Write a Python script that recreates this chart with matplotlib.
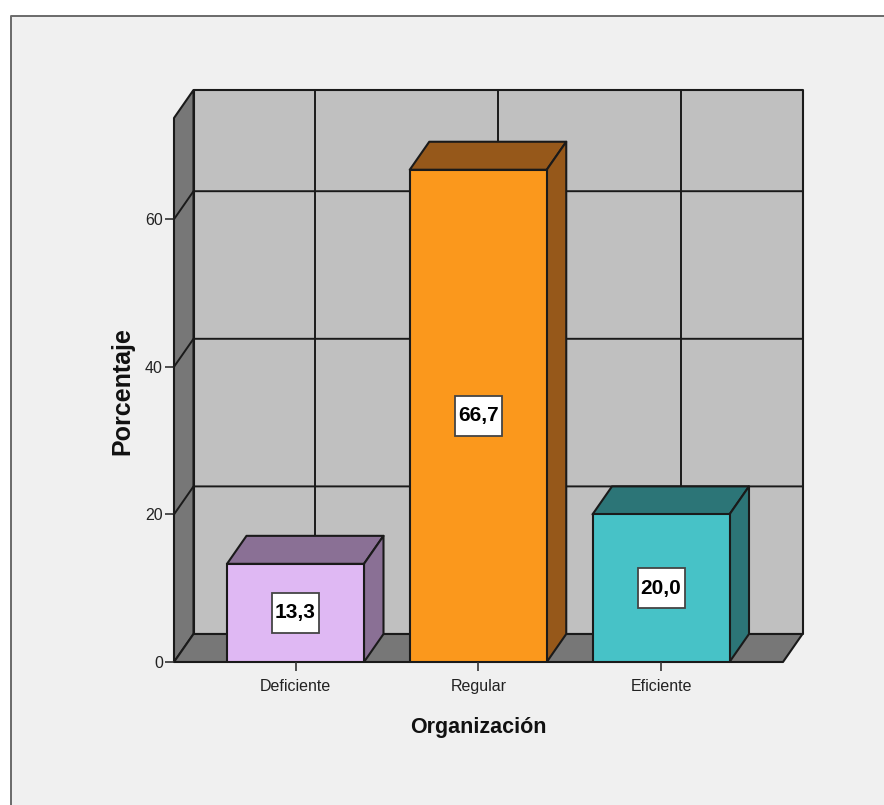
#!/usr/bin/env python3
# Barras en pseudo-3D: porcentaje por nivel de organización
import matplotlib
matplotlib.use("Agg")
import matplotlib.pyplot as plt
from matplotlib.patches import Polygon, Rectangle

CATEGORIES = ["Deficiente", "Regular", "Eficiente"]
VALUES = [13.3, 66.7, 20.0]
VALUE_LABELS = ["13,3", "66,7", "20,0"]
Y_TICKS = [0, 20, 40, 60]

FACE_COLORS = ["#dfb8f3", "#fb981c", "#47c2c7"]
SIDE_COLORS = ["#8a7095", "#96581a", "#2c7577"]
WALL = "#c0c0c0"
SHADE = "#777777"
BG = "#f0f0f0"
INK = "#1a1a1a"
FONT = ["Liberation Sans", "DejaVu Sans"]

W, H = 884, 805
# plano frontal del gráfico, en píxeles
LEFT, RIGHT, TOP, BOTTOM = 174, 783, 118, 662
PX_PER_CAT = 182.75
PX_PER_PCT = 7.38
DX = 19.5 / PX_PER_CAT  # profundidad en unidades de categoría
DY = 28 / PX_PER_PCT    # profundidad en unidades de porcentaje
BAR_W = 137 / PX_PER_CAT
BOX_W = 47 / PX_PER_CAT  # recuadro de la etiqueta de valor
BOX_H = 40 / PX_PER_PCT

fig = plt.figure(figsize=(W / 100, H / 100), dpi=100, facecolor="white")
plt.rcParams["font.family"] = FONT

# panel gris con el borde superior e izquierdo
fig.add_artist(Rectangle((11 / W, 0), 1, 1 - 16 / H, transform=fig.transFigure,
                         facecolor=BG, edgecolor="none", zorder=-2))
fig.add_artist(plt.Line2D([11 / W, 11 / W, 1], [0, 1 - 16.5 / H, 1 - 16.5 / H],
                          color="#6a6a6a", lw=1.4, zorder=-1))

ax = fig.add_axes([LEFT / W, 1 - BOTTOM / H, (RIGHT - LEFT) / W, (BOTTOM - TOP) / H])
ax.patch.set_visible(False)
x0 = -(295.5 - LEFT) / PX_PER_CAT
x1 = x0 + (RIGHT - LEFT) / PX_PER_CAT
y1 = (BOTTOM - TOP) / PX_PER_PCT
ax.set_xlim(x0, x1)
ax.set_ylim(0, y1)
for s in ax.spines.values():
    s.set_visible(False)


def poly(pts, fc, z):
    ax.add_patch(Polygon(pts, closed=True, facecolor=fc, edgecolor=INK, lw=1.5,
                         joinstyle="round", clip_on=False, zorder=z))


def line(xs, ys, z=2):
    ax.plot(xs, ys, color=INK, lw=1.4, clip_on=False, zorder=z)


# paredes y suelo
poly([(x0 + DX, DY), (x1 + DX, DY), (x1 + DX, y1 + DY), (x0 + DX, y1 + DY)], WALL, 1)
poly([(x0, 0), (x0 + DX, DY), (x0 + DX, y1 + DY), (x0, y1)], SHADE, 1)
poly([(x0, 0), (x1, 0), (x1 + DX, DY), (x0 + DX, DY)], SHADE, 1)

# rejilla de la pared del fondo y de la pared lateral
for t in Y_TICKS[1:]:
    line([x0, x0 + DX, x1 + DX], [t, t + DY, t + DY])
for i in range(len(CATEGORIES)):
    line([i + DX, i + DX], [DY, y1 + DY])

# barras
for i, v in enumerate(VALUES):
    l, r = i - BAR_W / 2, i + BAR_W / 2
    poly([(l, v), (r, v), (r + DX, v + DY), (l + DX, v + DY)], SIDE_COLORS[i], 3)
    poly([(r, 0), (r + DX, DY), (r + DX, v + DY), (r, v)], SIDE_COLORS[i], 3)
    ax.bar(i, v, width=BAR_W, color=FACE_COLORS[i], edgecolor=INK, linewidth=1.5, zorder=4)
    ax.add_patch(Rectangle((i - BOX_W / 2, v / 2 - BOX_H / 2), BOX_W, BOX_H, facecolor="white",
                           edgecolor="#444444", lw=1.3, zorder=5))
    ax.text(i, v / 2, VALUE_LABELS[i], ha="center", va="center", fontsize=15,
            fontweight="bold", color="black", zorder=6)

ax.set_xticks(range(len(CATEGORIES)), CATEGORIES)
ax.set_yticks(Y_TICKS)
ax.tick_params(axis="both", length=6.5, width=1.2, color="#333333", labelcolor="#222222",
               labelsize=11.5, pad=1.5)
ax.tick_params(axis="x", pad=6)

fig.text(122 / W, 1 - 391 / H, "Porcentaje", rotation=90, ha="center", va="center",
         fontsize=18, fontweight="bold", color="#111111")
fig.text(478 / W, 1 - 727 / H, "Organización", ha="center", va="center",
         fontsize=15.5, fontweight="bold", color="#111111")

fig.savefig("out.png", dpi=100, facecolor=fig.get_facecolor())
